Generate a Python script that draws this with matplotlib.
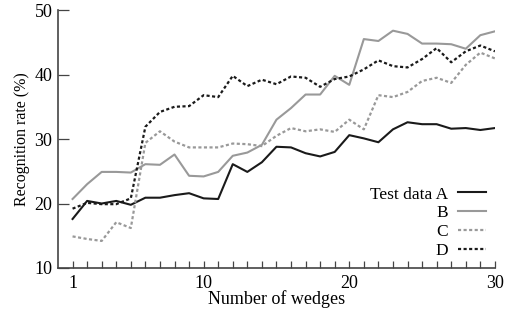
import numpy as np
import matplotlib
matplotlib.use("Agg")
import matplotlib.pyplot as plt

wedges = list(range(1, 31))

test_a = [17.6, 20.4, 20.0, 20.4, 19.8, 20.9, 20.9, 21.3, 21.6, 20.8,
          20.7, 26.1, 24.9, 26.4, 28.8, 28.7, 27.8, 27.3, 28.0, 30.6,
          30.1, 29.5, 31.5, 32.6, 32.3, 32.3, 31.6, 31.7, 31.4, 31.7]
test_b = [20.7, 23.0, 24.9, 24.9, 24.8, 26.1, 26.0, 27.6, 24.3, 24.2,
          24.9, 27.4, 27.9, 29.1, 33.0, 34.8, 36.9, 36.9, 39.8, 38.4,
          45.5, 45.2, 46.8, 46.3, 44.8, 44.8, 44.7, 44.0, 46.1, 46.7]
test_c = [14.9, 14.5, 14.2, 17.1, 16.2, 29.4, 31.2, 29.6, 28.7, 28.7,
          28.7, 29.3, 29.2, 28.9, 30.5, 31.7, 31.2, 31.5, 31.1, 33.0,
          31.5, 36.8, 36.5, 37.3, 39.0, 39.5, 38.7, 41.5, 43.4, 42.5]
test_d = [19.2, 20.1, 19.9, 19.9, 20.8, 31.9, 34.2, 35.0, 35.1, 36.8,
          36.5, 39.8, 38.2, 39.2, 38.5, 39.7, 39.5, 38.1, 39.3, 39.7,
          40.8, 42.2, 41.3, 41.1, 42.4, 44.1, 41.9, 43.6, 44.5, 43.6]
labels = ["Test data A", "B", "C", "D"]

plt.rcParams["font.family"] = ["Liberation Serif", "DejaVu Serif"]

fig = plt.figure(figsize=(5.11, 3.14), dpi=100)
ax = fig.add_axes([0.1135, 0.1465, 0.855, 0.8215])

dots = (0, (1.4, 1.1))
ax.plot(wedges, test_a, color="#1a1a1a", lw=1.5, label=labels[0])
ax.plot(wedges, test_b, color="#999999", lw=1.5, label=labels[1])
ax.plot(wedges, test_c, color="#999999", lw=1.6, ls=dots, label=labels[2])
ax.plot(wedges, test_d, color="#1a1a1a", lw=1.6, ls=dots, label=labels[3])

ax.set_xlim(0, 30)
ax.set_ylim(10, 50)
ax.set_xticks([1, 10, 20, 30])
ax.set_xticks(wedges, minor=True)
ax.set_yticks([10, 20, 30, 40, 50])
ax.tick_params(axis="x", which="both", direction="in", length=5,
               width=0.9, color="#444444", labelsize=13, pad=5)
ax.tick_params(axis="y", direction="in", length=8, width=0.9,
               color="#444444", labelsize=13, pad=4)
for s in ["top", "right"]:
    ax.spines[s].set_visible(False)
for s in ["left", "bottom"]:
    ax.spines[s].set_color("#444444")
    ax.spines[s].set_linewidth(1.2)

ax.set_xlabel("Number of wedges", fontsize=13, labelpad=-1)
ax.set_ylabel("Recognition rate (%)", fontsize=11.5, labelpad=3)

leg = ax.legend(loc="lower right", bbox_to_anchor=(1.015, -0.025),
                frameon=False, markerfirst=False, fontsize=12.5,
                handlelength=1.6, handletextpad=0.6, labelspacing=0.15)
for t in leg.get_texts():
    t.set_ha("right")
leg._legend_box.align = "right"

fig.savefig("out.png", dpi=100)
